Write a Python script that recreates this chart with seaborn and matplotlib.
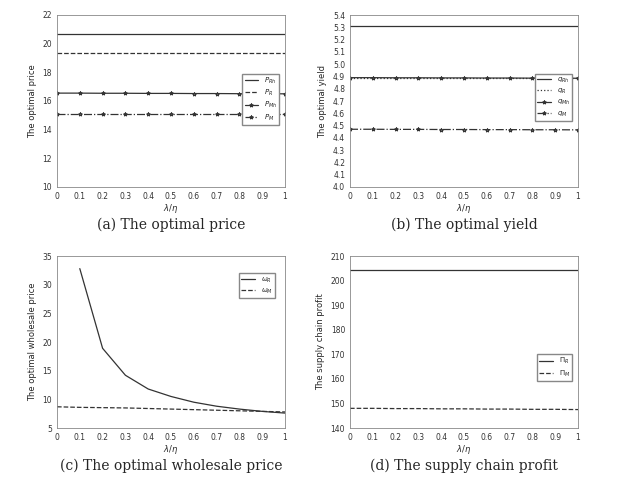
import numpy as np
import pandas as pd
import seaborn as sns
import matplotlib.pyplot as plt

sns.set_style("white")
plt.rcParams['font.family'] = ['DejaVu Sans']

lam = [0, 0.1, 0.2, 0.3, 0.4, 0.5, 0.6, 0.7, 0.8, 0.9, 1.0]
p_rh = [20.7] * 11
p_r = [19.35] * 11
p_mh = [16.55, 16.55, 16.54, 16.54, 16.53, 16.53, 16.52, 16.52, 16.51, 16.51, 16.5]
p_m = [15.1] * 11
q_rh = [5.31] * 11
q_r = [4.89] * 11
q_mh = [4.89, 4.89, 4.889, 4.889, 4.888, 4.888, 4.887, 4.887, 4.886, 4.886, 4.885]
q_m = [4.47, 4.47, 4.469, 4.469, 4.468, 4.468, 4.467, 4.467, 4.466, 4.466, 4.465]
lam_w = lam[1:]
w_r = [32.8, 18.9, 14.2, 11.8, 10.5, 9.5, 8.8, 8.3, 7.9, 7.6]
w_m = [8.7, 8.6, 8.55, 8.5, 8.4, 8.3, 8.2, 8.1, 8.0, 7.9, 7.8]
pi_r = [204.5] * 11
pi_m = [148.0, 148.0, 147.9, 147.9, 147.8, 147.8, 147.7, 147.7, 147.6, 147.6, 147.5]

fig = plt.figure(figsize=(6.26, 4.78), dpi=100)
boxes = [(57, 15), (350, 15), (57, 256), (350, 256)]
axes = [fig.add_axes([x / 626, 1 - (y + 172) / 478, 228 / 626, 172 / 478]) for x, y in boxes]

def line(ax, x, y, ls, marker, label):
    sns.lineplot(x=x, y=y, ax=ax, color='#333333', lw=0.9, ls=ls, marker=marker,
                 markersize=2.8, markerfacecolor='none', markeredgecolor='#333333', label=label)

ax = axes[0]
line(ax, lam, p_rh, '-', None, r'$P_{Rh}$')
line(ax, lam, p_r, '--', None, r'$P_{R}$')
line(ax, lam, p_mh, '-', '*', r'$P_{Mh}$')
line(ax, lam, p_m, '-.', '*', r'$P_{M}$')
ax.set_ylim(10, 22); ax.set_yticks(range(10, 23, 2))
ax.set_ylabel('The optimal price')

ax = axes[1]
line(ax, lam, q_rh, '-', None, r'$q_{Rh}$')
line(ax, lam, q_r, ':', None, r'$q_{R}$')
line(ax, lam, q_mh, '-', '*', r'$q_{Mh}$')
line(ax, lam, q_m, '-.', '*', r'$q_{M}$')
ax.set_ylim(4.0, 5.4); ax.set_yticks(np.arange(4.0, 5.41, 0.1))
ax.set_ylabel('The optimal yield')

ax = axes[2]
line(ax, lam_w, w_r, '-', None, r'$\omega_{R}$')
line(ax, lam, w_m, '--', None, r'$\omega_{M}$')
ax.set_ylim(5, 35); ax.set_yticks(range(5, 36, 5))
ax.set_ylabel('The optimal wholesale price')

ax = axes[3]
line(ax, lam, pi_r, '-', None, r'$\Pi_{R}$')
line(ax, lam, pi_m, '--', None, r'$\Pi_{M}$')
ax.set_ylim(140, 210); ax.set_yticks(range(140, 211, 10))
ax.set_ylabel('The supply chain profit')

locs = [(0.99, 0.68), (0.99, 0.68), (0.97, 0.92), (0.99, 0.45)]
for ax, loc in zip(axes, locs):
    ax.set_xlim(0, 1); ax.set_xticks(np.arange(0, 1.01, 0.1))
    ax.set_xticklabels(['0', '0.1', '0.2', '0.3', '0.4', '0.5', '0.6', '0.7', '0.8', '0.9', '1'])
    ax.set_xlabel(r'$\lambda/\eta$', fontsize=6, labelpad=1)
    ax.yaxis.label.set_fontsize(6)
    ax.tick_params(labelsize=5.5, length=2, direction='in', color='#555555', labelcolor='#333333')
    for s in ax.spines.values():
        s.set_color('#888888'); s.set_linewidth(0.6)
    ax.legend(loc='upper right', bbox_to_anchor=loc, fontsize=5, handlelength=2.0,
              fancybox=False, edgecolor='#888888', framealpha=1, borderpad=0.3, labelspacing=0.3)

caps = ['(a) The optimal price', '(b) The optimal yield',
        '(c) The optimal wholesale price', '(d) The supply chain profit']
for (x, y), c in zip(boxes, caps):
    fig.text((x + 114) / 626, 1 - (y + 210) / 478, c, ha='center', va='center',
             fontsize=10, family='DejaVu Serif')

fig.savefig('out.png', dpi=100)
